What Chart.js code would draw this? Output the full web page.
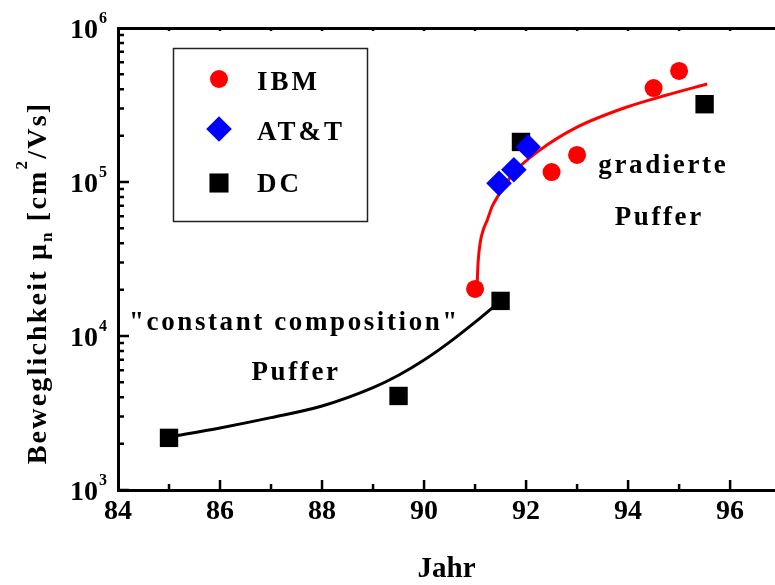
<!DOCTYPE html>
<html>
<head>
<meta charset="utf-8">
<script src="https://cdn.jsdelivr.net/npm/chart.js@4.4.0/dist/chart.umd.min.js"></script>
<style>
  html, body { margin: 0; padding: 0; background: #fff; }
  #wrap { width: 775px; height: 585px; }
</style>
</head>
<body>
<div id="wrap"><canvas id="chart" width="775" height="585"></canvas></div>
<script>
// measured points (year, electron mobility in cm^2/Vs)
const ibmYears = [91.0, 92.5, 93.0, 94.5, 95.0];
const ibmMobility = [20200, 116000, 150000, 407000, 526000];
const attYears = [91.47, 91.76, 92.04];
const attMobility = [98000, 120000, 169000];
const dcYears = [85.0, 89.5, 91.5, 91.9, 95.5];
const dcMobility = [2180, 4080, 16900, 182000, 320000];

// guide curves
const constFitYears = [85.0, 86.0, 87.0, 88.0, 89.0, 89.5, 90.0, 90.5, 91.0, 91.5];
const constFitMobility = [2210, 2530, 2950, 3510, 4620, 5560, 6980, 9120, 12300, 16900];
const gradFitYears = [91.04, 91.06, 91.1, 91.16, 91.24, 91.33, 91.45, 91.75, 92.27, 93.0, 93.98, 94.76, 95.55];
const gradFitMobility = [21400, 30200, 40200, 48800, 56700, 68800, 81100, 114000, 161000, 227000, 307000, 367000, 433000];

// axes
const xTickYears = [84, 86, 88, 90, 92, 94, 96];
const yTickExponents = [3, 4, 5, 6];

const serif = '"Liberation Serif", "Times New Roman", serif';

function zip(xs, ys) {
  return xs.map((x, i) => ({ x: x, y: ys[i] }));
}

// legend entries drawn by hand inside the plot
const legendItems = [
  { label: "IBM", style: "circle", color: "#ff0000", radius: 9 },
  { label: "AT&T", style: "rectRot", color: "#0000ff", radius: 12.8 },
  { label: "DC", style: "rect", color: "#000000", radius: 13.5 },
];

function marker(ctx, style, r, x, y, color) {
  ctx.fillStyle = color;
  ctx.beginPath();
  if (style === "circle") {
    ctx.arc(x, y, r, 0, Math.PI * 2);
  } else if (style === "rectRot") {
    ctx.moveTo(x, y - r);
    ctx.lineTo(x + r, y);
    ctx.lineTo(x, y + r);
    ctx.lineTo(x - r, y);
    ctx.closePath();
  } else {
    const s = Math.SQRT1_2 * r;
    ctx.rect(x - s, y - s, 2 * s, 2 * s);
  }
  ctx.fill();
}

const decorPlugin = {
  id: "decor",
  afterDraw(chart) {
    const ctx = chart.ctx;
    const a = chart.chartArea;
    const x = chart.scales.x;
    const y = chart.scales.y;
    ctx.save();

    // inward ticks
    ctx.strokeStyle = "#000";
    ctx.lineWidth = 2.5;
    ctx.beginPath();
    for (let v = 85; v <= 96; v++) {
      const px = x.getPixelForValue(v);
      const len = v % 2 === 0 ? 10 : 6;
      ctx.moveTo(px, a.bottom);
      ctx.lineTo(px, a.bottom - len);
      ctx.moveTo(px, a.top);
      ctx.lineTo(px, a.top + 3);
    }
    for (let e = 3; e < 6; e++) {
      for (let k = 1; k < 10; k++) {
        const py = y.getPixelForValue(k * Math.pow(10, e));
        const len = k === 1 ? 11 : 6;
        ctx.moveTo(a.left, py);
        ctx.lineTo(a.left + len, py);
      }
    }
    ctx.stroke();

    // y tick labels 10^n
    ctx.fillStyle = "#000";
    ctx.textBaseline = "alphabetic";
    yTickExponents.forEach((e) => {
      const py = y.getPixelForValue(Math.pow(10, e));
      const right = a.left - 11;
      ctx.font = "bold 16px " + serif;
      const ew = ctx.measureText(String(e)).width;
      ctx.textAlign = "left";
      ctx.fillText(String(e), right - ew, py - 5);
      ctx.font = "bold 28px " + serif;
      ctx.textAlign = "right";
      ctx.fillText("10", right - ew - 1, py + 10);
    });

    // y axis title with sub/superscript
    const parts = [
      { t: "Beweglichkeit \u03bc", size: 28, dy: 0 },
      { t: "n", size: 17, dy: 6 },
      { t: " [cm", size: 28, dy: 0 },
      { t: "2", size: 17, dy: -19 },
      { t: "/Vs]", size: 28, dy: 0 },
    ];
    ctx.save();
    ctx.translate(46, 283);
    ctx.rotate(-Math.PI / 2);
    ctx.letterSpacing = "2.2px";
    let total = 0;
    parts.forEach((p) => {
      ctx.font = "bold " + p.size + "px " + serif;
      p.w = ctx.measureText(p.t).width;
      total += p.w;
    });
    let cx = -total / 2;
    ctx.textAlign = "left";
    parts.forEach((p) => {
      ctx.font = "bold " + p.size + "px " + serif;
      ctx.fillText(p.t, cx, p.dy);
      cx += p.w;
    });
    ctx.restore();

    // annotations, anchored in data units
    ctx.font = "bold 27px " + serif;
    ctx.letterSpacing = "2.6px";
    ctx.textAlign = "center";
    const notes = [
      { t: '"constant composition"', x: 87.46, y: 10900 },
      { t: "Puffer", x: 87.49, y: 5180 },
      { t: "gradierte", x: 94.69, y: 114000 },
      { t: "Puffer", x: 94.61, y: 52600 },
    ];
    notes.forEach((n) => {
      ctx.fillText(n.t, x.getPixelForValue(n.x), y.getPixelForValue(n.y));
    });

    // legend box
    ctx.strokeStyle = "#222";
    ctx.lineWidth = 1.5;
    ctx.strokeRect(173.5, 48.5, 194, 173);
    const rowY = [79, 129, 183];
    const baseY = [90, 140, 192];
    ctx.textAlign = "left";
    ctx.letterSpacing = "3px";
    legendItems.forEach((item, i) => {
      marker(ctx, item.style, item.radius, 219, rowY[i], item.color);
      ctx.fillStyle = "#000";
      ctx.fillText(item.label, 257, baseY[i]);
    });

    ctx.restore();
  },
};

const ctx = document.getElementById("chart").getContext("2d");
new Chart(ctx, {
  type: "scatter",
  data: {
    datasets: [
      {
        label: "IBM",
        data: zip(ibmYears, ibmMobility),
        pointStyle: "circle",
        pointRadius: 9,
        backgroundColor: "#ff0000",
        borderWidth: 0,
        order: 1,
      },
      {
        label: "AT&T",
        data: zip(attYears, attMobility),
        pointStyle: "rectRot",
        pointRadius: 12.8,
        backgroundColor: "#0000ff",
        borderWidth: 0,
        order: 0,
      },
      {
        label: "DC",
        data: zip(dcYears, dcMobility),
        pointStyle: "rect",
        pointRadius: 13,
        backgroundColor: "#000000",
        borderWidth: 0,
        order: 2,
      },
      {
        label: "gradiert fit",
        data: zip(gradFitYears, gradFitMobility),
        showLine: true,
        pointRadius: 0,
        borderColor: "#ff0000",
        borderWidth: 3,
        cubicInterpolationMode: "monotone",
        order: 3,
      },
      {
        label: "constant fit",
        data: zip(constFitYears, constFitMobility),
        showLine: true,
        pointRadius: 0,
        borderColor: "#000000",
        borderWidth: 3,
        cubicInterpolationMode: "monotone",
        order: 4,
      },
    ],
  },
  options: {
    responsive: false,
    animation: false,
    devicePixelRatio: 1,
    layout: { autoPadding: false, padding: { top: 28, right: 0, left: 0, bottom: 0 } },
    plugins: {
      legend: { display: false },
      tooltip: { enabled: false },
    },
    scales: {
      x: {
        type: "linear",
        position: "bottom",
        min: 84,
        max: 96.88,
        afterBuildTicks: (s) => {
          s.ticks = xTickYears.map((v) => ({ value: v }));
        },
        afterFit: (s) => {
          s.height = 95;
          s.paddingLeft = 0;
          s.paddingRight = 0;
        },
        ticks: {
          color: "#000",
          padding: -3,
          maxRotation: 0,
          font: { family: serif, size: 28, weight: "bold" },
        },
        grid: { display: false },
        border: { display: true, width: 3, color: "#000" },
        title: {
          display: true,
          text: "Jahr",
          color: "#000",
          padding: { top: 4, bottom: -2 },
          font: { family: serif, size: 29, weight: "bold" },
        },
      },
      x2: {
        type: "linear",
        position: "top",
        min: 84,
        max: 96.88,
        afterFit: (s) => {
          s.height = 0;
          s.paddingLeft = 0;
          s.paddingRight = 0;
        },
        ticks: { display: false },
        grid: { display: false },
        border: { display: true, width: 3, color: "#000" },
      },
      y: {
        type: "logarithmic",
        min: 1000,
        max: 1000000,
        afterFit: (s) => {
          s.width = 118;
          s.paddingTop = 0;
          s.paddingBottom = 0;
        },
        ticks: { display: false },
        grid: { display: false },
        border: { display: true, width: 3, color: "#000" },
      },
    },
  },
  plugins: [decorPlugin],
});
</script>
</body>
</html>
